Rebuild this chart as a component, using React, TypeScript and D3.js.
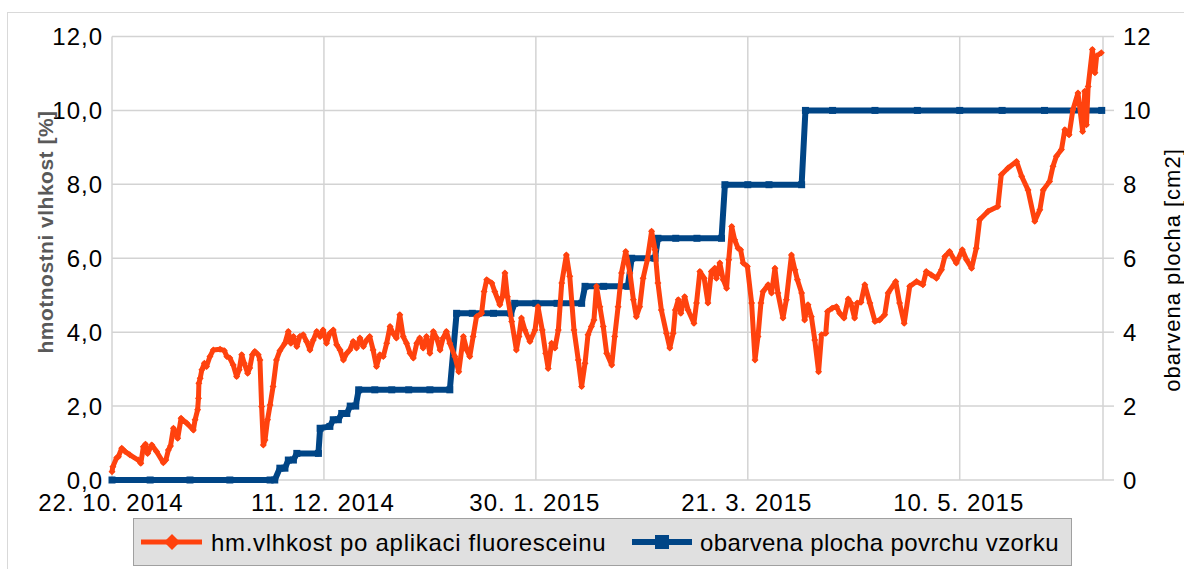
import React from 'react'
import * as d3 from 'd3'

// day offsets from 22. 10. 2014 and values
const startDate = Date.UTC(2014, 9, 22)
const moistureDays = [
  0, 0.2, 1.1, 1.5, 2.3, 3.1, 4.2, 6.2, 6.8, 7.4, 7.9, 8.4, 9.4, 10.5, 12.1, 12.7, 13.3, 13.8, 14.5, 15.0,
  15.5, 16.3, 17.6, 19.2, 19.6, 20.2, 20.4, 20.5, 20.8, 21.2, 21.8, 22.3, 23.1, 23.9, 25.5, 26.5, 27.1, 27.8, 28.6, 29.4,
  30.0, 30.6, 31.2, 32.0, 32.5, 33.1, 33.7, 34.5, 34.9, 35.3, 35.7, 36.1, 36.7, 37.3, 38.0, 38.8, 39.6, 40.8, 41.6, 42.2,
  42.8, 43.6, 44.3, 45.1, 45.9, 46.7, 47.5, 48.3, 49.1, 49.8, 50.6, 51.4, 52.2, 53.0, 53.8, 54.6, 55.4, 56.1, 56.9, 57.7,
  58.5, 59.3, 60.1, 60.8, 61.6, 62.4, 63.2, 64.0, 64.8, 65.6, 66.3, 67.1, 67.9, 68.7, 69.5, 70.3, 71.1, 71.9, 72.6, 73.4,
  74.2, 75.0, 75.8, 76.6, 77.4, 78.1, 78.9, 79.7, 80.9, 81.8, 82.9, 83.7, 84.4, 85.2, 86.0, 87.2, 87.8, 88.4, 89.6, 90.3,
  91.5, 92.1, 92.7, 93.3, 94.3, 95.4, 96.0, 96.6, 97.4, 98.6, 99.8, 100.5, 101.5, 102.3, 102.9, 103.7, 104.5, 105.3, 106.1, 107.2,
  108.0, 109.0, 110.0, 110.8, 111.6, 112.3, 113.1, 113.7, 114.3, 115.1, 115.9, 116.7, 117.9, 118.6, 119.4, 120.2, 121.2, 122.2, 123.0, 123.7,
  124.5, 125.3, 126.3, 127.3, 128.1, 128.8, 129.6, 130.8, 131.6, 132.4, 132.9, 133.6, 134.2, 135.1, 135.9, 137.3, 137.9, 138.7, 139.7, 140.6,
  141.4, 142.2, 142.6, 143.4, 144.2, 145.0, 145.5, 146.2, 146.9, 147.7, 148.3, 148.9, 149.9, 150.9, 151.7, 152.4, 153.1, 153.6, 154.8, 155.6,
  156.4, 157.1, 158.3, 159.1, 160.3, 161.1, 161.7, 162.7, 163.4, 164.2, 165.0, 165.8, 166.7, 167.4, 168.4, 168.8, 169.9, 170.9, 171.7, 172.7,
  173.7, 174.3, 175.2, 175.8, 176.7, 177.6, 178.8, 180.0, 181.1, 182.3, 183.1, 184.9, 185.8, 186.9, 188.2, 189.8, 191.3, 192.1, 193.3, 194.5,
  195.7, 196.5, 197.6, 199.2, 200.6, 201.6, 202.8, 203.9, 204.7, 206.7, 209.0, 209.8, 211.4, 213.4, 214.6, 216.1, 217.7, 218.9, 219.7, 221.2,
  222.0, 222.8, 224.0, 224.8, 225.8, 226.7, 227.9, 229.0, 229.5, 229.9, 230.3, 231.3, 231.9, 232.3, 233.4,
]
const moistureValues = [
  0.22, 0.36, 0.6, 0.63, 0.86, 0.77, 0.68, 0.54, 0.45, 0.9, 0.97, 0.72, 0.95, 0.77, 0.47, 0.54, 0.81, 0.92, 1.4, 1.26,
  1.13, 1.67, 1.54, 1.35, 1.63, 1.9, 2.21, 2.62, 2.75, 2.98, 3.16, 3.07, 3.34, 3.52, 3.54, 3.5, 3.34, 3.3, 3.11, 2.8,
  2.98, 3.39, 3.16, 2.89, 3.03, 3.39, 3.48, 3.39, 3.25, 1.99, 0.95, 1.08, 1.63, 2.03, 2.53, 3.25, 3.5, 3.7, 4.02, 3.7,
  3.88, 3.61, 3.88, 3.93, 3.75, 3.52, 3.79, 4.02, 3.88, 4.06, 3.7, 3.97, 4.06, 3.66, 3.52, 3.25, 3.43, 3.52, 3.75, 3.57,
  3.84, 3.61, 3.79, 3.88, 3.52, 3.07, 3.39, 3.34, 3.7, 4.15, 3.97, 3.84, 4.47, 3.88, 3.7, 3.43, 3.3, 3.7, 3.84, 3.57,
  3.88, 3.43, 4.02, 3.84, 3.52, 3.84, 4.02, 3.7, 3.34, 2.93, 3.88, 3.52, 3.34, 3.88, 4.42, 4.51, 5.1, 5.42, 5.33, 5.1,
  4.74, 4.96, 5.6, 4.96, 4.29, 3.52, 3.88, 4.38, 4.06, 3.75, 4.06, 4.69, 4.06, 3.43, 3.02, 3.7, 3.57, 4.06, 5.33, 6.09,
  5.51, 4.06, 3.25, 2.53, 3.16, 3.93, 4.15, 4.33, 5.24, 4.69, 4.15, 3.43, 3.11, 3.88, 4.69, 5.6, 6.18, 5.6, 4.88, 4.42,
  4.69, 5.46, 5.96, 6.73, 6.23, 5.33, 4.6, 3.97, 3.57, 3.97, 4.6, 4.88, 4.51, 4.96, 4.6, 4.24, 4.79, 5.64, 5.46, 4.79,
  5.64, 5.73, 5.46, 5.87, 5.42, 5.19, 5.96, 6.86, 6.5, 6.27, 6.23, 5.87, 5.78, 4.79, 3.25, 3.88, 4.79, 5.1, 5.28, 5.06,
  5.73, 5.06, 4.38, 4.88, 6.09, 5.69, 5.42, 5.06, 4.33, 4.74, 4.42, 3.79, 2.93, 3.93, 3.97, 4.56, 4.65, 4.69, 4.51, 4.38,
  4.9, 4.79, 4.38, 4.79, 4.81, 5.28, 4.79, 4.29, 4.33, 4.47, 5.06, 5.37, 4.79, 4.24, 5.24, 5.37, 5.28, 5.64, 5.55, 5.46,
  5.69, 6.05, 6.18, 5.87, 6.23, 5.96, 5.73, 6.27, 7.04, 7.27, 7.4, 8.26, 8.44, 8.62, 8.22, 7.85, 7.0, 7.31, 7.85, 8.08,
  8.49, 8.76, 8.94, 9.48, 9.34, 10.02, 10.47, 9.43, 10.52, 9.61, 10.65, 11.65, 11.02, 11.47, 11.56,
]
const areaDays = [
  0, 9, 18.4, 27.8, 37.3, 38.4, 39.6, 40.8, 41.6, 42.8, 43.6, 48.7, 49.1, 51.4, 52.2, 53.4, 54.2, 55.4, 56.2, 57.5,
  58.2, 62, 66, 70, 75, 79.7, 81.3, 85, 90, 94.1, 95.0, 100, 105, 110.8, 111.6, 116, 121.7, 122.6, 128.1, 128.8,
  133, 138, 143.8, 144.6, 150, 155, 162.7, 163.6, 170, 180, 190, 200, 210, 220, 233.5,
]
const areaValues = [
  0, 0, 0, 0, 0, 0, 0.32, 0.32, 0.54, 0.54, 0.72, 0.72, 1.4, 1.45, 1.63, 1.63, 1.8, 1.8, 2.0, 2.0,
  2.44, 2.44, 2.44, 2.44, 2.44, 2.44, 4.51, 4.51, 4.51, 4.51, 4.78, 4.78, 4.78, 4.78, 5.24, 5.24, 5.24, 6.0, 6.0, 6.54,
  6.54, 6.54, 6.54, 7.99, 7.99, 7.99, 7.99, 10, 10, 10, 10, 10, 10, 10, 10,
]
const xTickDays = [0, 50, 100, 150, 200]
const leftTicks = [0, 2, 4, 6, 8, 10, 12]
const rightTicks = [0, 2, 4, 6, 8, 10, 12]
const seriesNames = ['hm.vlhkost po aplikaci fluoresceinu', 'obarvena plocha povrchu vzorku']
const seriesColors = ['#ff420e', '#004586']

const toDate = (d: number) => new Date(startDate + d * 864e5)
const font = '"Liberation Sans", Arial, sans-serif'
const grid = '#d3d3d3'

export default function App() {
  const left = 112
  const right = 1103
  const top = 36.5
  const bottom = 480

  const x = d3.scaleUtc().domain([toDate(0), toDate(233.8)]).range([left, right])
  const yL = d3.scaleLinear().domain([0, 12]).range([bottom, top])
  const yR = d3.scaleLinear().domain([0, 12]).range([bottom, top])

  const moisture = moistureDays.map((d, i) => [x(toDate(d)), yL(moistureValues[i])])
  const area = areaDays.map((d, i) => [x(toDate(d)), yR(areaValues[i])])
  const line = d3.line()

  const fmtDate = (dt: Date) => `${dt.getUTCDate()}. ${dt.getUTCMonth() + 1}. ${dt.getUTCFullYear()}`
  const fmtLeft = (v: number) => d3.format('.1f')(v).replace('.', ',')
  const diamond = (cx: number, cy: number, r: number) =>
    `M${cx},${cy - r}L${cx + r},${cy}L${cx},${cy + r}L${cx - r},${cy}Z`

  return (
    <svg width={1184} height={569} style={{ position: 'absolute', left: 0, top: 0, fontFamily: font }}>
      <rect width={1184} height={569} fill='#fff' />
      <rect x={7.5} y={12.5} width={1300} height={700} fill='none' stroke='#d9d9d9' />

      {/* grid */}
      {leftTicks.map(t => (
        <line key={'h' + t} x1={left} x2={right} y1={yL(t)} y2={yL(t)} stroke={grid} strokeWidth={1.5} />
      ))}
      {xTickDays.map(d => (
        <line key={'v' + d} x1={x(toDate(d))} x2={x(toDate(d))} y1={top} y2={bottom} stroke={grid} strokeWidth={1.5} />
      ))}
      <line x1={right} x2={right} y1={top} y2={bottom} stroke={grid} strokeWidth={1.5} />
      {rightTicks.map(t => (
        <line key={'rt' + t} x1={right} x2={right + 11} y1={yR(t)} y2={yR(t)} stroke={grid} strokeWidth={1.5} />
      ))}

      {/* series */}
      <path d={line(area as any) || ''} fill='none' stroke={seriesColors[1]} strokeWidth={6} strokeLinejoin='round' />
      {area.map((p, i) => (
        <rect key={'a' + i} x={p[0] - 3.5} y={p[1] - 3.5} width={7} height={7} fill={seriesColors[1]} />
      ))}
      <path d={line(moisture as any) || ''} fill='none' stroke={seriesColors[0]} strokeWidth={5} strokeLinejoin='round' />
      {moisture.map((p, i) => (
        <path key={'m' + i} d={diamond(p[0], p[1], 3.5)} fill={seriesColors[0]} />
      ))}

      {/* axis labels */}
      {leftTicks.map(t => (
        <text key={'lt' + t} x={103} y={yL(t)} textAnchor='end' dominantBaseline='central' fontSize={24} style={{ letterSpacing: 1 }}>
          {fmtLeft(t)}
        </text>
      ))}
      {rightTicks.map(t => (
        <text key={'rl' + t} x={1123} y={yR(t)} dominantBaseline='central' fontSize={24} style={{ letterSpacing: 1 }}>
          {t}
        </text>
      ))}
      {xTickDays.map(d => (
        <text key={'xl' + d} x={x(toDate(d)) - 1} y={502} textAnchor='middle' dominantBaseline='central' fontSize={24} style={{ letterSpacing: 1 }}>
          {fmtDate(toDate(d))}
        </text>
      ))}
      <text
        transform='translate(45,232) rotate(-90)'
        textAnchor='middle'
        dominantBaseline='central'
        fontSize={21}
        fontWeight='bold'
        fill='#595959'
        style={{ letterSpacing: 0.5 }}
      >
        hmotnostni vlhkost [%]
      </text>
      <text
        transform='translate(1172,270) rotate(-90)'
        textAnchor='middle'
        dominantBaseline='central'
        fontSize={22}
        style={{ letterSpacing: 1 }}
      >
        obarvena plocha [cm2]
      </text>

      {/* legend */}
      <rect x={133.5} y={518.5} width={938} height={47} fill='#e0e0e0' stroke='#a0a0a0' />
      <line x1={141} x2={202} y1={542} y2={542} stroke={seriesColors[0]} strokeWidth={5} />
      <path d={diamond(172, 542, 8)} fill={seriesColors[0]} />
      <text x={211} y={542} dominantBaseline='central' fontSize={24} style={{ letterSpacing: 0.7 }}>
        {seriesNames[0]}
      </text>
      <line x1={632} x2={692} y1={542} y2={542} stroke={seriesColors[1]} strokeWidth={6} />
      <rect x={655} y={535} width={14} height={14} fill={seriesColors[1]} />
      <text x={700} y={542} dominantBaseline='central' fontSize={24} style={{ letterSpacing: 0.4 }}>
        {seriesNames[1]}
      </text>
    </svg>
  )
}
